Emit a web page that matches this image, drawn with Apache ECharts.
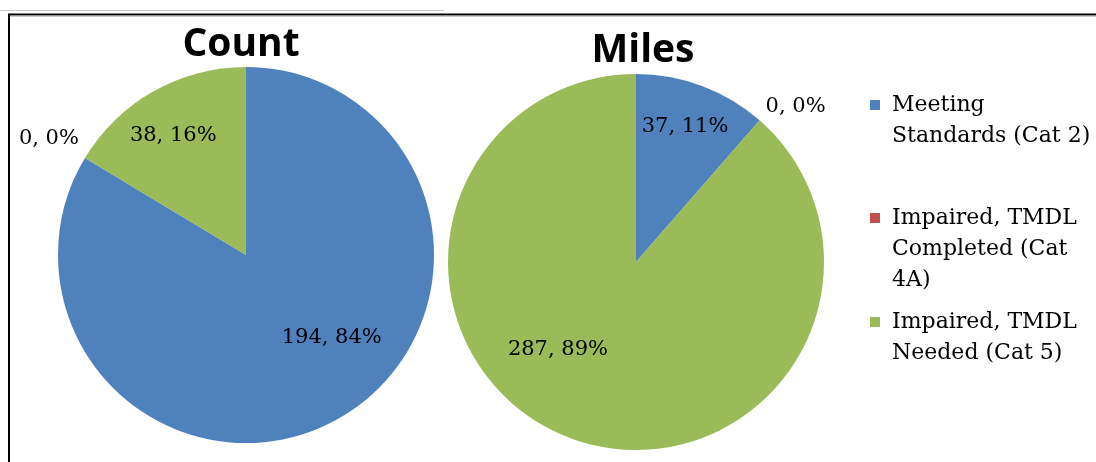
<!DOCTYPE html>
<html>
<head>
<meta charset="utf-8">
<script src="https://cdn.jsdelivr.net/npm/echarts@6/dist/echarts.min.js"></script>
<style>
  html, body { margin: 0; padding: 0; background: #ffffff; }
  #chart { width: 1096px; height: 462px; }
</style>
</head>
<body>
<div id="chart"></div>
<script>
// Category names and their colours
const categories = [
  'Meeting Standards (Cat 2)',
  'Impaired, TMDL Completed (Cat 4A)',
  'Impaired, TMDL Needed (Cat 5)'
];
const categoryColors = ['#4F81BD', '#C0504D', '#9BBB59'];

// Wrapped legend text for each category
const legendLines = [
  ['Meeting', 'Standards (Cat 2)'],
  ['Impaired, TMDL', 'Completed (Cat', '4A)'],
  ['Impaired, TMDL', 'Needed (Cat 5)']
];

// Panel titles
const panelTitles = ['Count', 'Miles'];

// Values per category
const countValues = [194, 0, 38];
const milesValues = [37, 0, 287];

const serifFont = '"DejaVu Serif", serif';
const labelSize = 21;

// Label placement tweaks per slice [dx, dy]
const countLabelOffsets = [[38, -2], [-1, -20], [-25, -35]];
const milesLabelOffsets = [[15, -45], [1, -14], [-44, -3]];

function buildData(values, offsets) {
  return values.map(function (v, i) {
    const zero = v === 0;
    return {
      name: categories[i],
      value: v,
      itemStyle: { color: categoryColors[i] },
      label: {
        position: zero ? 'outside' : 'inside',
        offset: offsets[i]
      }
    };
  });
}

function pieSeries(name, values, offsets, center) {
  return {
    name: name,
    type: 'pie',
    center: center,
    radius: 188,
    startAngle: 90,
    clockwise: true,
    avoidLabelOverlap: false,
    percentPrecision: 0,
    animation: false,
    emphasis: { disabled: true },
    itemStyle: { borderWidth: 0 },
    label: {
      show: true,
      formatter: '{c}, {d}%',
      color: '#000000',
      fontFamily: serifFont,
      fontSize: labelSize
    },
    labelLine: { show: false, length: 0, length2: 0 },
    data: buildData(values, offsets)
  };
}

// The marker sits beside the first text line: blank lines are put in front
// so that the first line falls at the vertical middle of the text block.
function legendText(lines) {
  const pad = [];
  for (let k = 1; k < lines.length; k++) pad.push(' ');
  return pad.concat(lines).join('\n');
}

const lineH = 31;
const markerCenters = [105, 218, 322];

const chart = echarts.init(document.getElementById('chart'), null, { renderer: 'canvas' });

chart.setOption({
  backgroundColor: '#ffffff',
  title: [
    {
      text: panelTitles[0], left: 236, top: 20, textAlign: 'center',
      textStyle: { fontFamily: '"Open Sans", sans-serif', fontWeight: 'bold', fontSize: 39, color: '#000000' }
    },
    {
      text: panelTitles[1], left: 638, top: 26, textAlign: 'center',
      textStyle: { fontFamily: '"Open Sans", sans-serif', fontWeight: 'bold', fontSize: 39, color: '#000000' }
    }
  ],
  legend: categories.map(function (c, i) {
    const nLines = 2 * legendLines[i].length - 1;
    return {
      data: [c],
      orient: 'vertical',
      left: 865,
      top: markerCenters[i] - nLines * lineH / 2 - 5,
      icon: 'rect',
      itemWidth: 10,
      itemHeight: 10,
      selectedMode: false,
      formatter: function () { return legendText(legendLines[i]); },
      textStyle: {
        fontFamily: serifFont,
        fontSize: 22,
        lineHeight: lineH,
        color: '#000000',
        padding: [0, 0, 0, 7]
      }
    };
  }),
  graphic: [
    {
      type: 'line', silent: true,
      shape: { x1: 0, y1: 10.5, x2: 444, y2: 10.5 },
      style: { stroke: '#c8c8c8', lineWidth: 1 }
    },
    {
      type: 'polyline', silent: true,
      shape: { points: [[9, 470], [9, 14.5], [1100, 14.5]] },
      style: { stroke: '#000000', lineWidth: 2, fill: null }
    },
    {
      type: 'line', silent: true,
      shape: { x1: 10, y1: 16, x2: 1100, y2: 16 },
      style: { stroke: '#9a9a9a', lineWidth: 1 }
    }
  ],
  series: [
    pieSeries(panelTitles[0], countValues, countLabelOffsets, [246, 255]),
    pieSeries(panelTitles[1], milesValues, milesLabelOffsets, [636, 262])
  ]
});
</script>
</body>
</html>
